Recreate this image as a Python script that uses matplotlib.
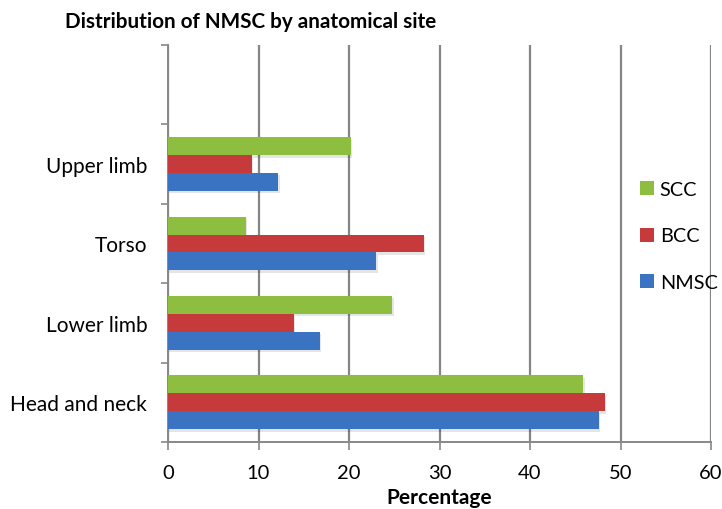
import matplotlib
matplotlib.use("Agg")
import matplotlib.pyplot as plt
import numpy as np
from matplotlib.patches import Patch

categories = ["Head and neck", "Lower limb", "Torso", "Upper limb", ""]
nmsc = [47.6, 16.8, 23.0, 12.2, 0]
bcc = [48.3, 13.9, 28.3, 9.25, 0]
scc = [45.9, 24.8, 8.6, 20.2, 0]
series_names = ["NMSC", "BCC", "SCC"]
colors = ["#3A73C2", "#C63A3B", "#8DBE3F"]
xticks = [0, 10, 20, 30, 40, 50, 60]

plt.rcParams['font.family'] = ['Lato', 'DejaVu Sans']

fig = plt.figure(figsize=(7.22, 5.10), dpi=100)
ax = fig.add_axes([168/722, 1-443/510, (711-168)/722, (443-46)/510])

y = np.arange(len(categories))
h = 0.226
for i, (vals, c) in enumerate(zip([nmsc, bcc, scc], colors)):
    off = (i - 1) * h
    # soft shadow
    ax.barh(y + off - 0.03, vals, height=h, left=0.15, color="#000000", alpha=0.10, zorder=2, linewidth=0)
    ax.barh(y + off, vals, height=h, color=c, zorder=3, linewidth=0)

ax.set_xlim(0, 60)
ax.set_ylim(-0.5, 4.5)
ax.set_xticks(xticks)
ax.set_xticklabels([str(t) for t in xticks], fontsize=14.5)
ax.set_yticks(np.arange(-0.5, 4.6, 1.0))
ax.set_yticklabels([])
ax.set_yticks(y, minor=True)
ax.set_yticklabels(categories, minor=True, fontsize=15)
ax.tick_params(axis='y', which='minor', length=0, pad=15)
ax.tick_params(axis='y', which='major', length=5, width=1.2, color="#888888", direction='out')
ax.tick_params(axis='x', length=6, width=1.2, color="#888888", direction='out', pad=10)
ax.grid(axis='x', color="#858585", linewidth=1.6, zorder=0)
ax.set_axisbelow(True)
for s in ["top", "right"]:
    ax.spines[s].set_visible(False)
for s in ["left", "bottom"]:
    ax.spines[s].set_color("#888888")
    ax.spines[s].set_linewidth(1.4)

ax.set_xlabel("Percentage", fontsize=15, fontweight='bold', labelpad=4)
fig.text(65/722, 1-22/510, "Distribution of NMSC by anatomical site", fontsize=14.9,
         fontweight='bold', ha='left', va='center')

handles = [Patch(facecolor=colors[2]), Patch(facecolor=colors[1]), Patch(facecolor=colors[0])]
leg = ax.legend(handles, ["SCC", "BCC", "NMSC"], loc='center left',
                bbox_to_anchor=(622/722, 1-237/510), bbox_transform=fig.transFigure,
                frameon=False, fontsize=14.3, handlelength=0.7, handleheight=0.7,
                handletextpad=0.3, labelspacing=1.5)

fig.savefig("out.png", dpi=100)
